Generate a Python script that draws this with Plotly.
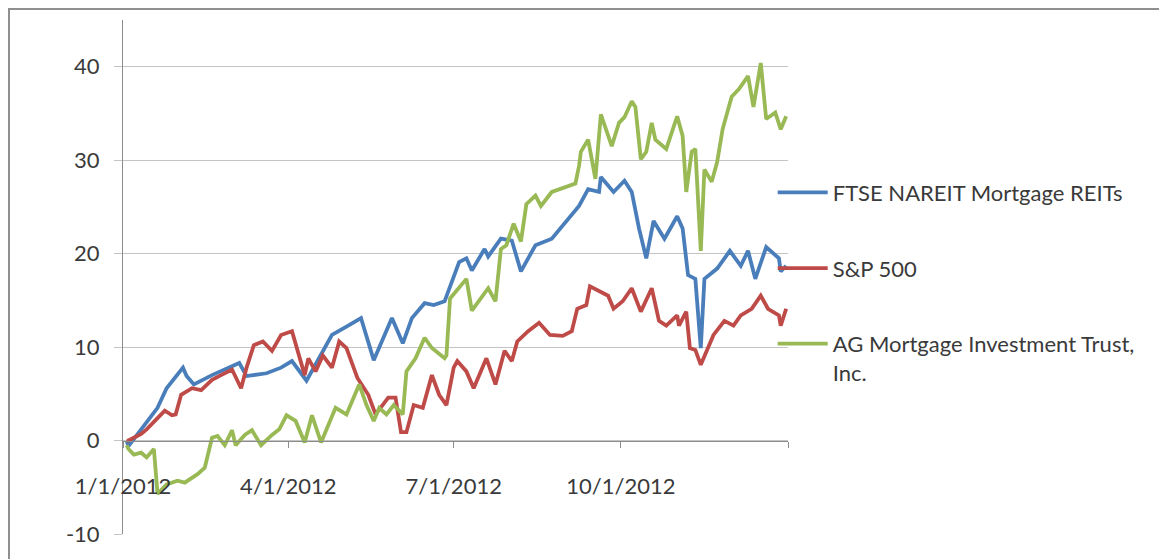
import plotly.graph_objects as go

# ---------------- data ----------------
ftse_dates = ["2012-01-03", "2012-01-04", "2012-01-13", "2012-01-20", "2012-01-25", "2012-02-03",
              "2012-02-05", "2012-02-09", "2012-02-19", "2012-02-26", "2012-03-05", "2012-03-09",
              "2012-03-20", "2012-03-28", "2012-04-03", "2012-04-11", "2012-04-25", "2012-05-03",
              "2012-05-11", "2012-05-18", "2012-05-28", "2012-06-03", "2012-06-08", "2012-06-15",
              "2012-06-20", "2012-06-26", "2012-07-04", "2012-07-08", "2012-07-11", "2012-07-18",
              "2012-07-20", "2012-07-27", "2012-08-02", "2012-08-07", "2012-08-15", "2012-08-24",
              "2012-09-01", "2012-09-08", "2012-09-13", "2012-09-19", "2012-09-20", "2012-09-27",
              "2012-10-03", "2012-10-07", "2012-10-11", "2012-10-15", "2012-10-19", "2012-10-25",
              "2012-11-01", "2012-11-04", "2012-11-07", "2012-11-11", "2012-11-14", "2012-11-16",
              "2012-11-23", "2012-11-30", "2012-12-06", "2012-12-10", "2012-12-14", "2012-12-20",
              "2012-12-27", "2012-12-28", "2012-12-31"]
ftse_values = [0.0, -0.6, 1.7, 3.5, 5.6, 7.8,
               6.9, 6.0, 7.0, 7.6, 8.3, 6.9,
               7.2, 7.8, 8.5, 6.4, 11.3, 12.2,
               13.1, 8.6, 13.1, 10.4, 13.1, 14.7,
               14.5, 14.9, 19.1, 19.5, 18.2, 20.5,
               19.7, 21.6, 21.4, 18.1, 20.9, 21.6,
               23.4, 25.1, 26.9, 26.6, 28.2, 26.6,
               27.8, 26.6, 22.7, 19.5, 23.5, 21.6,
               24.0, 22.7, 17.7, 17.3, 9.9, 17.3,
               18.4, 20.3, 18.7, 20.3, 17.3, 20.7,
               19.5, 18.1, 18.7]

sp_dates = ["2012-01-03", "2012-01-04", "2012-01-11", "2012-01-14", "2012-01-20", "2012-01-24",
            "2012-01-28", "2012-01-30", "2012-02-02", "2012-02-08", "2012-02-13", "2012-02-19",
            "2012-02-24", "2012-03-01", "2012-03-06", "2012-03-09", "2012-03-13", "2012-03-18",
            "2012-03-23", "2012-03-28", "2012-04-03", "2012-04-10", "2012-04-12", "2012-04-16",
            "2012-04-20", "2012-04-25", "2012-04-29", "2012-05-03", "2012-05-09", "2012-05-15",
            "2012-05-19", "2012-05-26", "2012-05-30", "2012-06-02", "2012-06-05", "2012-06-09",
            "2012-06-14", "2012-06-19", "2012-06-23", "2012-06-27", "2012-07-01", "2012-07-03",
            "2012-07-08", "2012-07-12", "2012-07-19", "2012-07-24", "2012-07-29", "2012-08-02",
            "2012-08-05", "2012-08-11", "2012-08-17", "2012-08-23", "2012-08-30", "2012-09-04",
            "2012-09-07", "2012-09-12", "2012-09-14", "2012-09-19", "2012-09-24", "2012-09-27",
            "2012-10-02", "2012-10-07", "2012-10-12", "2012-10-18", "2012-10-22", "2012-10-26",
            "2012-11-01", "2012-11-02", "2012-11-06", "2012-11-08", "2012-11-11", "2012-11-14",
            "2012-11-18", "2012-11-21", "2012-11-27", "2012-12-02", "2012-12-06", "2012-12-12",
            "2012-12-17", "2012-12-21", "2012-12-27", "2012-12-28", "2012-12-31"]
sp_values = [0.0, 0.0, 0.7, 1.2, 2.4, 3.2,
             2.7, 2.8, 4.9, 5.6, 5.4, 6.5,
             7.0, 7.6, 5.6, 7.8, 10.2, 10.6,
             9.6, 11.3, 11.7, 7.0, 8.8, 7.4,
             9.1, 7.8, 10.6, 9.9, 6.7, 4.9,
             2.8, 4.6, 4.6, 0.9, 0.9, 3.8,
             3.5, 7.0, 4.9, 3.8, 7.8, 8.5,
             7.4, 5.6, 8.8, 6.0, 9.6, 8.5,
             10.6, 11.7, 12.6, 11.3, 11.2, 11.7,
             14.1, 14.5, 16.5, 16.0, 15.5, 14.1,
             14.9, 16.3, 13.8, 16.3, 12.8, 12.3,
             13.4, 12.3, 13.8, 9.9, 9.7, 8.1,
             9.9, 11.3, 12.8, 12.3, 13.4, 14.1,
             15.5, 14.1, 13.4, 12.3, 14.1]

ag_dates = ["2012-01-03", "2012-01-04", "2012-01-07", "2012-01-11", "2012-01-14", "2012-01-18",
            "2012-01-20", "2012-01-25", "2012-01-31", "2012-02-04", "2012-02-11", "2012-02-15",
            "2012-02-19", "2012-02-22", "2012-02-26", "2012-03-01", "2012-03-03", "2012-03-08",
            "2012-03-12", "2012-03-17", "2012-03-23", "2012-03-27", "2012-03-31", "2012-04-05",
            "2012-04-10", "2012-04-14", "2012-04-19", "2012-04-27", "2012-05-03", "2012-05-10",
            "2012-05-14", "2012-05-18", "2012-05-21", "2012-05-25", "2012-05-29", "2012-06-03",
            "2012-06-05", "2012-06-10", "2012-06-15", "2012-06-19", "2012-06-26", "2012-06-27",
            "2012-06-29", "2012-07-03", "2012-07-08", "2012-07-11", "2012-07-16", "2012-07-20",
            "2012-07-24", "2012-07-27", "2012-07-30", "2012-08-03", "2012-08-07", "2012-08-10",
            "2012-08-15", "2012-08-18", "2012-08-24", "2012-09-01", "2012-09-06", "2012-09-08",
            "2012-09-09", "2012-09-13", "2012-09-17", "2012-09-20", "2012-09-23", "2012-09-26",
            "2012-09-30", "2012-10-03", "2012-10-07", "2012-10-09", "2012-10-12", "2012-10-15",
            "2012-10-18", "2012-10-20", "2012-10-26", "2012-11-01", "2012-11-04", "2012-11-06",
            "2012-11-09", "2012-11-11", "2012-11-14", "2012-11-16", "2012-11-20", "2012-11-23",
            "2012-11-26", "2012-12-01", "2012-12-05", "2012-12-10", "2012-12-13", "2012-12-17",
            "2012-12-20", "2012-12-25", "2012-12-28", "2012-12-31"]
ag_values = [-0.5, -0.9, -1.5, -1.3, -1.8, -0.9,
             -5.7, -4.7, -4.3, -4.5, -3.6, -2.9,
             0.3, 0.5, -0.5, 1.1, -0.5, 0.6,
             1.1, -0.5, 0.6, 1.2, 2.7, 2.1,
             -0.2, 2.7, -0.2, 3.5, 2.8, 6.0,
             3.8, 2.1, 3.5, 2.8, 3.8, 2.8,
             7.4, 8.8, 11.0, 9.9, 8.8, 9.1,
             15.2, 16.1, 17.3, 13.9, 15.2, 16.3,
             14.9, 20.5, 20.9, 23.2, 21.3, 25.3,
             26.2, 25.1, 26.6, 27.1, 27.5, 29.4,
             30.9, 32.2, 28.0, 34.9, 33.3, 31.5,
             34.0, 34.6, 36.3, 35.7, 30.1, 30.9,
             34.0, 32.2, 31.2, 34.7, 32.6, 26.6,
             30.9, 31.2, 20.3, 29.0, 27.7, 29.8,
             33.3, 36.8, 37.6, 39.0, 35.7, 40.4,
             34.4, 35.1, 33.3, 34.7]

series_names = ["FTSE NAREIT Mortgage REITs", "S&P 500", "AG Mortgage Investment Trust,<br>Inc."]
series_colors = ["#4A7EBB", "#BE4B48", "#98B954"]

x_tickvals = ["2012-01-01", "2012-04-01", "2012-07-01", "2012-10-01", "2013-01-01"]
x_ticktext = ["1/1/2012", "4/1/2012", "7/1/2012", "10/1/2012", ""]
y_tickvals = [-10, 0, 10, 20, 30, 40]
y_ticktext = ["-10", "0", "10", "20", "30", "40"]

# ---------------- figure ----------------
fig = go.Figure()
all_dates = [ftse_dates, sp_dates, ag_dates]
all_values = [ftse_values, sp_values, ag_values]
for i in range(3):
    fig.add_trace(go.Scatter(
        x=all_dates[i], y=all_values[i], mode="lines", name=series_names[i],
        legendgroup=f"g{i}",
        line=dict(color=series_colors[i], width=3.8),
    ))

FONT = "Lato, 'Open Sans', sans-serif"

# page body has an 8px default margin; plot area placed to land at x 123..788, y 20..537
L, T, PW, PH = 115, 12, 665, 517
W, H = 1159, 551

fig.update_layout(
    width=W, height=H,
    margin=dict(l=L, r=W - L - PW, t=T, b=H - T - PH),
    paper_bgcolor="white", plot_bgcolor="white",
    font=dict(family=FONT, size=22, color="#3a3a3a"),
    showlegend=True,
    legend=dict(
        x=0.977, y=0.705, xanchor="left", yanchor="top",
        traceorder="grouped", tracegroupgap=44, valign="top",
        font=dict(family=FONT, size=22, color="#3a3a3a"),
        bgcolor="rgba(0,0,0,0)", itemwidth=50,
    ),
    xaxis=dict(
        type="date", range=["2012-01-01", "2013-01-01"],
        tickmode="array", tickvals=x_tickvals, ticktext=x_ticktext,
        showgrid=False, zeroline=False,
        showline=True, linecolor="#8c8c8c", linewidth=1,
        ticks="outside", ticklen=6, tickcolor="#8c8c8c",
        anchor="free", position=(537 - 443) / 517,
        ticklabelstandoff=20,
    ),
    yaxis=dict(
        range=[-10, 45], tickmode="array", tickvals=y_tickvals, ticktext=y_ticktext,
        showgrid=True, gridcolor="#c4c4c4", gridwidth=1.3, zeroline=False,
        showline=True, linecolor="#8c8c8c", linewidth=1,
        ticks="outside", ticklen=8, tickcolor="#c4c4c4",
        ticklabelstandoff=10,
    ),
    shapes=[dict(
        type="rect", xref="paper", yref="paper",
        x0=(1 - L) / PW, x1=(W + 20 - L) / PW,
        y0=-(H - T - PH + 20) / PH, y1=(PH + T - 1) / PH,
        line=dict(color="#8f8f8f", width=2), fillcolor="rgba(0,0,0,0)", layer="below",
    )],
)

fig.write_html("out.html")
